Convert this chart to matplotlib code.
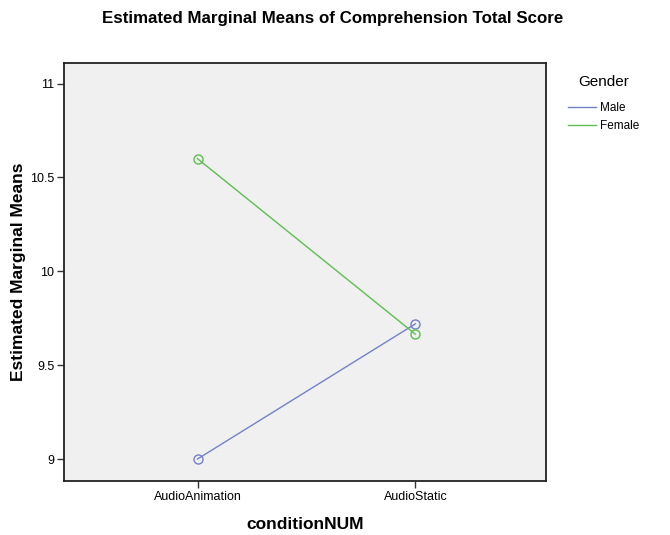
import matplotlib
matplotlib.use("Agg")
import matplotlib.pyplot as plt
from matplotlib.lines import Line2D

plt.rcParams['font.family'] = ['Liberation Sans', 'DejaVu Sans']

conditions = ["AudioAnimation", "AudioStatic"]
groups = ["Male", "Female"]
male_means = [9.0, 9.72]
female_means = [10.6, 9.665]
yticks = [9, 9.5, 10, 10.5, 11]
ytick_labels = ["9", "9.5", "10", "10.5", "11"]

colors = {"Male": "#7282c8", "Female": "#5cbf4f"}

fig = plt.figure(figsize=(6.7, 5.35), dpi=100)
ax = fig.add_axes([0.0955, 0.101, 0.7195, 0.782])
ax.set_facecolor("#f0f0f0")

xs = list(range(len(conditions)))
for name, vals in zip(groups, [male_means, female_means]):
    ax.plot(xs, vals, color=colors[name], lw=1.0, marker='o', markersize=6.5,
            markerfacecolor='none', markeredgecolor=colors[name], markeredgewidth=1.0)

ax.set_xlim(-0.613, 1.6)
ax.set_ylim(8.883, 11.112)
ax.set_xticks(xs)
ax.set_xticklabels(conditions, fontsize=9)
ax.set_yticks(yticks)
ax.set_yticklabels(ytick_labels, fontsize=9)
ax.tick_params(axis='both', direction='out', length=5, width=1.0, color='#333333', pad=2)
for s in ax.spines.values():
    s.set_color('#222222')
    s.set_linewidth(1.3)

ax.set_xlabel("conditionNUM", fontsize=12.5, fontweight='bold', labelpad=10)
ax.set_ylabel("Estimated Marginal Means", fontsize=12.5, fontweight='bold', labelpad=3)
fig.text(0.497, 0.966, "Estimated Marginal Means of Comprehension Total Score",
         ha='center', va='center', fontsize=12.2, fontweight='bold')

handles = [Line2D([0], [0], color=colors[g], lw=1.0) for g in groups]
leg = fig.legend(handles, groups, title="Gender", loc='upper left',
                 bbox_to_anchor=(0.835, 0.875), frameon=False, fontsize=8.5,
                 title_fontsize=11, handlelength=2.4, handletextpad=0.3,
                 labelspacing=0.55, borderpad=0.2)
leg._legend_box.align = "center"
leg._legend_box.sep = 9

fig.savefig("out.png", dpi=100)
